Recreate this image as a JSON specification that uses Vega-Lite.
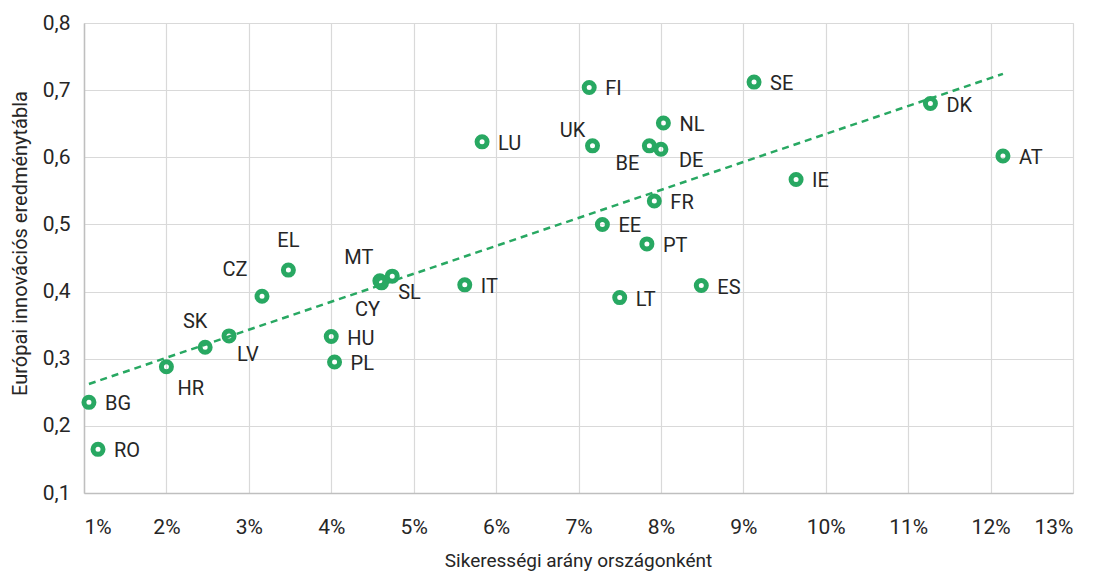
{
  "$schema": "https://vega.github.io/schema/vega-lite/v6.json",
  "width": 989,
  "height": 470,
  "autosize": {"type": "none"},
  "padding": {"left": 84, "top": 23, "right": 21, "bottom": 84},
  "background": "white",
  "config": {
    "view": {"stroke": "#d9d9d9", "strokeWidth": 1},
    "font": "Roboto",
    "text": {"font": "Roboto"},
    "axis": {"labelFont": "Roboto", "titleFont": "Roboto", "labelColor": "#262626", "titleColor": "#262626", "titleFontWeight": "normal", "gridColor": "#d9d9d9", "gridWidth": 1.2, "ticks": false, "domainColor": "#bfbfbf", "domainWidth": 1.5}
  },
  "data": {
    "values": [
      {"country": "BG", "rate": 0.0106, "eri": 0.235},
      {"country": "RO", "rate": 0.0117, "eri": 0.165},
      {"country": "HR", "rate": 0.0200, "eri": 0.288},
      {"country": "SK", "rate": 0.0247, "eri": 0.317},
      {"country": "LV", "rate": 0.0276, "eri": 0.334},
      {"country": "CZ", "rate": 0.0316, "eri": 0.393},
      {"country": "EL", "rate": 0.0348, "eri": 0.432},
      {"country": "HU", "rate": 0.0400, "eri": 0.333},
      {"country": "PL", "rate": 0.0404, "eri": 0.295},
      {"country": "MT", "rate": 0.0459, "eri": 0.416},
      {"country": "CY", "rate": 0.0461, "eri": 0.413},
      {"country": "SL", "rate": 0.0474, "eri": 0.423},
      {"country": "IT", "rate": 0.0562, "eri": 0.410},
      {"country": "LU", "rate": 0.0583, "eri": 0.623},
      {"country": "FI", "rate": 0.0713, "eri": 0.704},
      {"country": "UK", "rate": 0.0717, "eri": 0.617},
      {"country": "EE", "rate": 0.0729, "eri": 0.500},
      {"country": "LT", "rate": 0.0750, "eri": 0.391},
      {"country": "PT", "rate": 0.0783, "eri": 0.471},
      {"country": "BE", "rate": 0.0786, "eri": 0.617},
      {"country": "FR", "rate": 0.0792, "eri": 0.535},
      {"country": "DE", "rate": 0.0800, "eri": 0.612},
      {"country": "NL", "rate": 0.0803, "eri": 0.651},
      {"country": "ES", "rate": 0.0849, "eri": 0.409},
      {"country": "SE", "rate": 0.0913, "eri": 0.712},
      {"country": "IE", "rate": 0.0964, "eri": 0.567},
      {"country": "DK", "rate": 0.1127, "eri": 0.680},
      {"country": "AT", "rate": 0.1215, "eri": 0.602}
    ]
  },
  "encoding": {
    "x": {
      "field": "rate", "type": "quantitative",
      "scale": {"domain": [0.01, 0.13], "nice": false, "zero": false},
      "axis": {
        "values": [0.01, 0.02, 0.03, 0.04, 0.05, 0.06, 0.07, 0.08, 0.09, 0.10, 0.11, 0.12, 0.13],
        "format": ".0%", "labelFontSize": 21, "labelPadding": 23,
        "title": "Sikerességi arány országonként", "titleFontSize": 19,
        "titleX": 494, "titleY": 67, "titleBaseline": "middle", "titleAlign": "center"
      }
    },
    "y": {
      "field": "eri", "type": "quantitative",
      "scale": {"domain": [0.1, 0.8], "nice": false, "zero": false},
      "axis": {
        "values": [0.1, 0.2, 0.3, 0.4, 0.5, 0.6, 0.7, 0.8],
        "labelExpr": "replace(format(datum.value, '.1f'), '.', ',')",
        "labelFontSize": 21, "labelPadding": 14,
        "title": "Európai innovációs eredménytábla", "titleFontSize": 20,
        "titleX": -64, "titleY": 220, "titleAngle": -90, "titleBaseline": "middle", "titleAlign": "center"
      }
    }
  },
  "layer": [
    {
      "transform": [{"regression": "eri", "on": "rate", "method": "linear"}],
      "mark": {"type": "line", "color": "#28a862", "strokeWidth": 2.5, "strokeDash": [7, 5]}
    },
    {
      "mark": {"type": "point", "filled": false, "shape": "circle", "size": 100, "strokeWidth": 5, "color": "#28a862", "opacity": 1}
    },
    {
      "transform": [{"filter": "indexof(['BG','RO','HU','PL','IT','LU','FI','EE','LT','PT','FR','NL','ES','SE','IE','DK','AT'], datum.country) >= 0"}],
      "mark": {"type": "text", "align": "left", "baseline": "middle", "dx": 16, "dy": 2, "fontSize": 20, "color": "#262626"},
      "encoding": {"text": {"field": "country"}}
    },
    {
      "transform": [{"filter": "datum.country == 'DE'"}],
      "mark": {"type": "text", "align": "left", "baseline": "middle", "dx": 18, "dy": 12, "fontSize": 20, "color": "#262626"},
      "encoding": {"text": {"field": "country"}}
    },
    {
      "transform": [{"filter": "datum.country == 'HR'"}],
      "mark": {"type": "text", "align": "left", "baseline": "middle", "dx": 11, "dy": 22, "fontSize": 20, "color": "#262626"},
      "encoding": {"text": {"field": "country"}}
    },
    {
      "transform": [{"filter": "datum.country == 'LV'"}],
      "mark": {"type": "text", "align": "left", "baseline": "middle", "dx": 8, "dy": 19, "fontSize": 20, "color": "#262626"},
      "encoding": {"text": {"field": "country"}}
    },
    {
      "transform": [{"filter": "datum.country == 'SL'"}],
      "mark": {"type": "text", "align": "left", "baseline": "middle", "dx": 6, "dy": 17, "fontSize": 20, "color": "#262626"},
      "encoding": {"text": {"field": "country"}}
    },
    {
      "transform": [{"filter": "datum.country == 'SK'"}],
      "mark": {"type": "text", "align": "center", "baseline": "middle", "dx": -10, "dy": -25, "fontSize": 20, "color": "#262626"},
      "encoding": {"text": {"field": "country"}}
    },
    {
      "transform": [{"filter": "datum.country == 'CZ'"}],
      "mark": {"type": "text", "align": "center", "baseline": "middle", "dx": -27, "dy": -26, "fontSize": 20, "color": "#262626"},
      "encoding": {"text": {"field": "country"}}
    },
    {
      "transform": [{"filter": "datum.country == 'EL'"}],
      "mark": {"type": "text", "align": "center", "baseline": "middle", "dx": 0, "dy": -29, "fontSize": 20, "color": "#262626"},
      "encoding": {"text": {"field": "country"}}
    },
    {
      "transform": [{"filter": "datum.country == 'MT'"}],
      "mark": {"type": "text", "align": "center", "baseline": "middle", "dx": -21, "dy": -23, "fontSize": 20, "color": "#262626"},
      "encoding": {"text": {"field": "country"}}
    },
    {
      "transform": [{"filter": "datum.country == 'CY'"}],
      "mark": {"type": "text", "align": "center", "baseline": "middle", "dx": -14, "dy": 27, "fontSize": 20, "color": "#262626"},
      "encoding": {"text": {"field": "country"}}
    },
    {
      "transform": [{"filter": "datum.country == 'UK'"}],
      "mark": {"type": "text", "align": "center", "baseline": "middle", "dx": -20, "dy": -15, "fontSize": 20, "color": "#262626"},
      "encoding": {"text": {"field": "country"}}
    },
    {
      "transform": [{"filter": "datum.country == 'BE'"}],
      "mark": {"type": "text", "align": "center", "baseline": "middle", "dx": -22, "dy": 18, "fontSize": 20, "color": "#262626"},
      "encoding": {"text": {"field": "country"}}
    }
  ]
}
